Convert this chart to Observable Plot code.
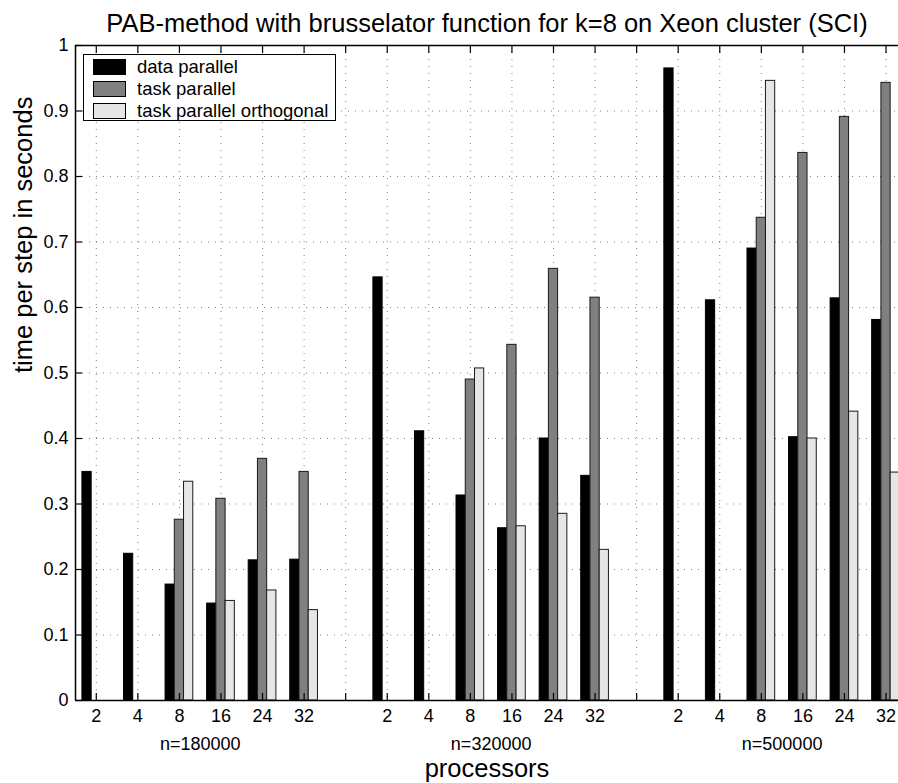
<!DOCTYPE html>
<html>
<head>
<meta charset="utf-8">
<script src="https://cdn.jsdelivr.net/npm/d3@7"></script>
<script src="https://cdn.jsdelivr.net/npm/@observablehq/plot@0.6"></script>
<style>
  html, body { margin: 0; padding: 0; background: #fff; overflow: hidden; }
  #wrap { position: relative; width: 898px; height: 783px; font-family: "Liberation Sans", Arial, sans-serif; }
  #wrap svg { overflow: hidden; }
  #legend { position: absolute; left: 83px; top: 54px; width: 251px; height: 65px; border: 1.5px solid #000; background: #fff; }
  .row { position: absolute; left: 9px; height: 22px; display: flex; align-items: center; font-size: 18.5px; color: #000; white-space: nowrap; }
  .sw { width: 31px; height: 14px; border: 1px solid #000; margin-right: 11px; box-sizing: content-box; }
</style>
</head>
<body>
<div id="wrap"></div>
<script>
const title = "PAB-method with brusselator function for k=8 on Xeon cluster (SCI)";
const yLabel = "time per step in seconds";
const xLabel = "processors";
const groups = ["n=180000", "n=320000", "n=500000"];
const processors = [2, 4, 8, 16, 24, 32];
const series = ["data parallel", "task parallel", "task parallel orthogonal"];
const colors = ["#000000", "#808080", "#e6e6e6"];
const yTicks = [0, 0.1, 0.2, 0.3, 0.4, 0.5, 0.6, 0.7, 0.8, 0.9, 1];

const dataParallel = [0.349, 0.224, 0.177, 0.148, 0.214, 0.215,
                      0.646, 0.411, 0.313, 0.263, 0.400, 0.343,
                      0.965, 0.611, 0.690, 0.402, 0.614, 0.581];
const taskParallel = [null, null, 0.276, 0.308, 0.369, 0.349,
                      null, null, 0.490, 0.543, 0.659, 0.615,
                      null, null, 0.737, 0.836, 0.891, 0.943];
const taskParallelOrthogonal = [null, null, 0.334, 0.152, 0.168, 0.138,
                                null, null, 0.507, 0.266, 0.285, 0.230,
                                null, null, 0.946, 0.400, 0.441, 0.348];

const seriesValues = [dataParallel, taskParallel, taskParallelOrthogonal];
const slot = processors.length + 1;       // one empty slot between groups
const nSlots = groups.length * slot - 1;  // 20 tick positions
const barW = 2 / 9;                        // MATLAB grouped bar width

const rows = [];
const tickRows = [];
groups.forEach((g, gi) => {
  processors.forEach((p, pi) => {
    const idx = gi * processors.length + pi;
    const pos = gi * slot + pi + 1;
    tickRows.push({pos, label: String(p)});
    seriesValues.forEach((vals, si) => {
      const v = vals[idx];
      if (v != null) {
        const c = pos + (si - 1) * barW;
        rows.push({series: series[si], si, x1: c - barW / 2, x2: c + barW / 2, value: v});
      }
    });
  });
});
const allTicks = d3.range(1, nSlots + 1);
const groupRows = groups.map((g, gi) => ({label: g, pos: gi * slot + (processors.length + 1) / 2}));
const labelMap = new Map(tickRows.map(d => [d.pos, d.label]));
const xMin = 0.5;

const font = '"Liberation Sans", Arial, sans-serif';

const chart = Plot.plot({
  width: 898,
  height: 783,
  marginLeft: 75,
  marginRight: 0,
  marginTop: 45,
  marginBottom: 83,
  style: {fontFamily: font, background: "#fff", color: "#000"},
  x: {domain: [xMin, 20.3], axis: null},
  y: {domain: [0, 1], axis: null},
  color: {domain: series, range: colors},
  marks: [
    Plot.gridX(allTicks, {stroke: "#000", strokeOpacity: 0.5, strokeDasharray: "1,6"}),
    Plot.gridY(yTicks.slice(1, -1), {stroke: "#000", strokeOpacity: 0.5, strokeDasharray: "1,6"}),
    Plot.rectY(rows, {
      x1: "x1", x2: "x2", y1: 0, y2: "value",
      fill: "series",
      stroke: d => d.si === 0 ? "#000" : "#1a1a1a",
      strokeWidth: 1
    }),
    // frame
    Plot.ruleY([0, 1], {stroke: "#000", strokeWidth: 1.5}),
    Plot.ruleX([xMin], {stroke: "#000", strokeWidth: 1.5}),
    // inward ticks (no text)
    Plot.axisX(allTicks, {anchor: "bottom", tickSize: -7, fill: "none", label: null, stroke: "#000", strokeWidth: 1.2}),
    Plot.axisX(allTicks, {anchor: "top", tickSize: -7, fill: "none", label: null, stroke: "#000", strokeWidth: 1.2}),
    Plot.axisY(yTicks, {anchor: "left", tickSize: -7, fill: "none", label: null, stroke: "#000", strokeWidth: 1.2}),
    // tick labels
    Plot.axisX(tickRows.map(d => d.pos), {anchor: "bottom", tickSize: 0, tickPadding: 9, tickFormat: d => labelMap.get(d), label: null, fontSize: 18, fill: "#000"}),
    Plot.axisY(yTicks, {anchor: "left", tickSize: 0, tickPadding: 7, tickFormat: d => String(d), label: null, fontSize: 18, fill: "#000"}),
    // group labels
    Plot.text(groupRows, {x: "pos", text: "label", frameAnchor: "bottom", lineAnchor: "middle", dy: 44.2, fontSize: 18, fill: "#000"}),
    // axis titles
    Plot.text([xLabel], {frameAnchor: "bottom", lineAnchor: "middle", dy: 68.5, fontSize: 25.5, fill: "#000"}),
    Plot.text([yLabel], {frameAnchor: "left", lineAnchor: "middle", dx: -52, rotate: -90, fontSize: 25.5, fill: "#000"}),
    Plot.text([title], {frameAnchor: "top", lineAnchor: "middle", dy: -21.5, fontSize: 25.5, fill: "#000"})
  ]
});

const wrap = document.getElementById("wrap");
wrap.appendChild(chart);

const legend = document.createElement("div");
legend.id = "legend";
series.forEach((s, i) => {
  const row = document.createElement("div");
  row.className = "row";
  row.style.top = (1 + i * 22) + "px";
  const sw = document.createElement("div");
  sw.className = "sw";
  sw.style.background = colors[i];
  const t = document.createElement("span");
  t.textContent = s;
  row.appendChild(sw);
  row.appendChild(t);
  legend.appendChild(row);
});
wrap.appendChild(legend);
</script>
</body>
</html>
